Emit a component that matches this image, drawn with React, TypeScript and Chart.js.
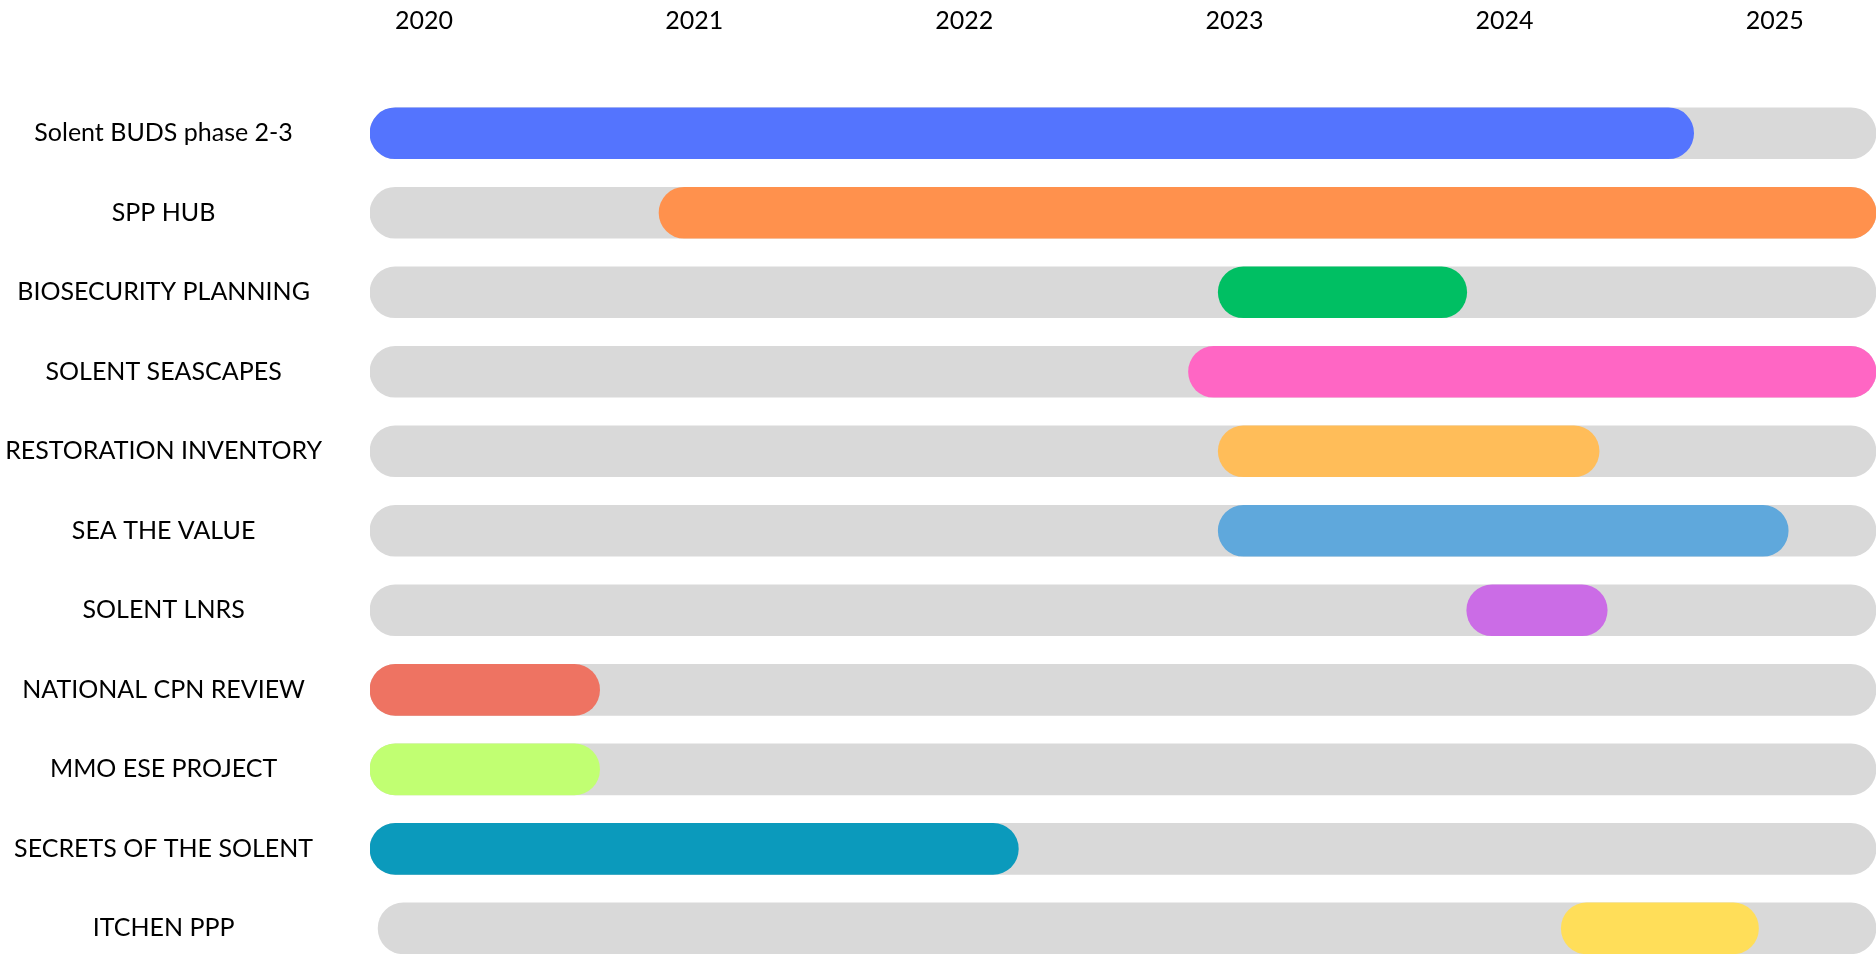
import React, { useEffect, useRef } from "react";
import { Chart, registerables } from "chart.js";

Chart.register(...registerables);

const projects = [
  "Solent BUDS phase 2-3",
  "SPP HUB",
  "BIOSECURITY PLANNING",
  "SOLENT SEASCAPES",
  "RESTORATION INVENTORY",
  "SEA THE VALUE",
  "SOLENT LNRS",
  "NATIONAL CPN REVIEW",
  "MMO ESE PROJECT",
  "SECRETS OF THE SOLENT",
  "ITCHEN PPP",
];

// decimal years
const startYears = [2019.8, 2020.87, 2022.94, 2022.83, 2022.94, 2022.94, 2023.86, 2019.8, 2019.8, 2019.8, 2024.21];
const endYears = [2024.7, 2025.375, 2023.86, 2025.375, 2024.35, 2025.05, 2024.38, 2020.65, 2020.65, 2022.2, 2024.94];

const trackStart = [2019.8, 2019.8, 2019.8, 2019.8, 2019.8, 2019.8, 2019.8, 2019.8, 2019.8, 2019.8, 2019.83];
const trackEnd = [2025.375, 2025.375, 2025.375, 2025.375, 2025.375, 2025.375, 2025.375, 2025.375, 2025.375, 2025.375, 2025.375];

const yearTicks = [2020, 2021, 2022, 2023, 2024, 2025];

const barColors = [
  "#5474FE",
  "#FF914D",
  "#00BF63",
  "#FF66C4",
  "#FFBD59",
  "#5FA8DC",
  "#CB6CE6",
  "#EE7362",
  "#C1FF72",
  "#0B9ABC",
  "#FFDE59",
];
const trackColor = "#D9D9D9";

const X_MIN = 2019.8;
const X_MAX = 2025.375;
const FONT = "Lato";

export default function App() {
  const canvasRef = useRef<HTMLCanvasElement | null>(null);

  useEffect(() => {
    document.body.style.margin = "0";
    document.body.style.overflow = "hidden";
    const canvas = canvasRef.current;
    if (!canvas) return;

    const chart = new Chart(canvas, {
      type: "bar",
      data: {
        datasets: [
          {
            label: "Project",
            data: projects.map((_, i) => ({ x: [startYears[i], endYears[i]], y: i })) as any,
            backgroundColor: barColors,
            borderRadius: 26,
            borderSkipped: false,
            barThickness: 51,
            grouped: false,
            order: 0,
          },
          {
            label: "Track",
            data: projects.map((_, i) => ({ x: [trackStart[i], trackEnd[i]], y: i })) as any,
            backgroundColor: trackColor,
            borderRadius: 26,
            borderSkipped: false,
            barThickness: 51,
            grouped: false,
            order: 1,
          },
        ],
      },
      options: {
        indexAxis: "y",
        responsive: false,
        animation: false,
        events: [],
        layout: { padding: 0 },
        plugins: {
          legend: { display: false },
          tooltip: { enabled: false },
        },
        scales: {
          x: {
            type: "linear",
            position: "top",
            min: X_MIN,
            max: X_MAX,
            offset: false,
            grid: { display: false },
            border: { display: false },
            afterBuildTicks: (axis: any) => {
              axis.ticks = yearTicks.map((v) => ({ value: v }));
            },
            afterFit: (axis: any) => {
              axis.height = 93.5;
              axis.paddingLeft = 0;
              axis.paddingRight = 0;
            },
            ticks: {
              padding: 50,
              color: "#000000",
              font: { family: FONT, size: 25 },
              callback: (v: any) => String(v),
            },
          },
          y: {
            type: "linear",
            reverse: true,
            offset: false,
            min: -0.5,
            max: 10.323,
            grid: { display: false, offset: false },
            border: { display: false },
            afterBuildTicks: (axis: any) => {
              axis.ticks = projects.map((_, i) => ({ value: i }));
            },
            afterFit: (axis: any) => {
              axis.width = 370;
              axis.paddingTop = 0;
              axis.paddingBottom = 0;
            },
            ticks: {
              padding: 40,
              crossAlign: "center",
              color: "#000000",
              font: { family: FONT, size: 25 },
              callback: (v: any) => projects[v as number] ?? "",
            },
          },
        },
      },
    });

    return () => chart.destroy();
  }, []);

  return (
    <div style={{ width: 1876, height: 954, background: "#ffffff" }}>
      <canvas ref={canvasRef} width={1876} height={954} style={{ display: "block" }} />
    </div>
  );
}
